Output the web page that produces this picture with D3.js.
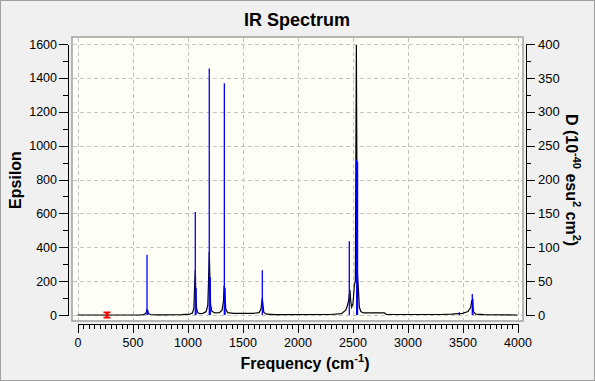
<html>
<head>
	<title>IR Spectrum</title>
<script src="https://d3js.org/d3.v7.min.js" charset="utf-8"></script>
<style type="text/css">
body{
	margin:0;
	background:#f0f0f0;
}
text{
	font-family:"Liberation Sans", Arial, sans-serif;
	fill:#000;
}
.grid{
	stroke:#c4c4c4;
	stroke-dasharray:4,3;
	shape-rendering:crispEdges;
}
.curve{
	fill:none;
	stroke:#000;
	stroke-width:1.2;
}
.stick{
	stroke:#0000ff;
	stroke-width:1.3;
}
.axis path, .axis line{
	stroke:#000;
	shape-rendering:crispEdges;
}
.axis text{
	font-size:12.5px;
}
.title{
	font-size:18px;
	font-weight:bold;
}
.label{
	font-size:16px;
	font-weight:bold;
}
</style>
</head>
<body>

</body>
<script>
// stick spectrum (right axis, D)
var stick_freq = [632, 640, 1071, 1078, 1198, 1207, 1335, 1341, 1680, 2471, 2538, 2546, 3471, 3589, 3595];
var stick_D    = [89,  7,   152,  40,   364,  56,   342,  40,   66,   109,  229,  226,  4,    31,   24];

// broadened curve (left axis, epsilon)
var curve_freq = [0, 560, 600, 620, 628, 632, 637, 645, 665, 720, 950, 1020, 1045, 1058, 1064, 1071, 1076, 1082, 1092, 1110,
	1140, 1170, 1185, 1192, 1198, 1204, 1210, 1222, 1250, 1290, 1315, 1327, 1332, 1335, 1340, 1348, 1365, 1420, 1600, 1650,
	1668, 1676, 1680, 1686, 1694, 1720, 1800, 2300, 2400, 2440, 2455, 2465, 2477, 2484, 2492, 2505, 2517, 2526, 2535, 2544,
	2553, 2562, 2576, 2600, 2790, 2810, 3300, 3400, 3500, 3550, 3575, 3585, 3592, 3600, 3620, 3700, 4000];
var curve_eps  = [0, 0, 2, 8, 22, 35, 20, 8, 3, 1, 2, 5, 12, 40, 160, 265, 120, 40, 15, 8,
	10, 20, 60, 220, 372, 210, 60, 22, 12, 14, 30, 80, 160, 177, 120, 35, 14, 10, 10, 14,
	35, 80, 100, 60, 15, 5, 2, 3, 8, 30, 60, 88, 148, 80, 47, 70, 177, 200, 1594, 250,
	160, 47, 20, 12, 12, 3, 3, 5, 10, 20, 45, 88, 60, 20, 5, 2, 0];

var freq_ticks = d3.range(0, 4001, 500),
	freq_minor = d3.range(0, 4001, 50).filter(function(d){ return d % 500 != 0; }),
	eps_ticks = d3.range(0, 1601, 200),
	eps_minor = d3.range(100, 1600, 200),
	d_ticks = d3.range(0, 401, 50),
	d_minor = d3.range(25, 400, 50);

var marker_freq = 268;

var svg = d3.select('body').append('svg').attr('width', 595).attr('height', 381),
	x = d3.scaleLinear().domain([0, 4000]).range([77.5, 517.5]),
	yEps = d3.scaleLinear().domain([0, 1600]).range([315, 44]),
	yD = d3.scaleLinear().domain([0, 400]).range([315, 44]),
	fmt = d3.format('d');

svg.append('rect')
	.attr('x', 0.5).attr('y', 0.5).attr('width', 594).attr('height', 380)
	.attr('fill', '#f0f0f0').attr('stroke', '#a0a0a0');

// plot frame
svg.append('rect')
	.attr('x', 72).attr('y', 37).attr('width', 451).attr('height', 284)
	.attr('fill', '#fffff7').attr('stroke', '#a0a0a0').attr('stroke-width', 1.5);

var grid = svg.append('g');
grid.selectAll('.vgrid')
	.data(freq_ticks)
	.enter()
	.append('line')
		.attr('class', 'grid')
		.attr('x1', function(d){ return Math.round(x(d)) + 0.5; })
		.attr('x2', function(d){ return Math.round(x(d)) + 0.5; })
		.attr('y1', 38).attr('y2', 320);
grid.selectAll('.hgrid')
	.data(eps_ticks)
	.enter()
	.append('line')
		.attr('class', 'grid')
		.attr('y1', function(d){ return Math.round(yEps(d)) + 0.5; })
		.attr('y2', function(d){ return Math.round(yEps(d)) + 0.5; })
		.attr('x1', 73).attr('x2', 522);

// axes
svg.append('g').attr('class', 'axis').attr('transform', 'translate(68,0)')
	.call(d3.axisLeft(yEps).tickValues(eps_ticks).tickFormat(fmt).tickSize(9).tickSizeOuter(0).tickPadding(2));
svg.append('g').attr('class', 'axis').attr('transform', 'translate(68,0)')
	.call(d3.axisLeft(yEps).tickValues(eps_minor).tickSize(5).tickSizeOuter(0).tickFormat(''));

svg.append('g').attr('class', 'axis').attr('transform', 'translate(526,0)')
	.call(d3.axisRight(yD).tickValues(d_ticks).tickFormat(fmt).tickSize(9).tickSizeOuter(0).tickPadding(3))
	.selectAll('text').style('font-size', '13px');
svg.append('g').attr('class', 'axis').attr('transform', 'translate(526,0)')
	.call(d3.axisRight(yD).tickValues(d_minor).tickSize(5).tickSizeOuter(0).tickFormat(''));

svg.append('g').attr('class', 'axis').attr('transform', 'translate(0,324)')
	.call(d3.axisBottom(x).tickValues(freq_ticks).tickFormat(fmt).tickSize(9).tickSizeOuter(0).tickPadding(5));
svg.append('g').attr('class', 'axis').attr('transform', 'translate(0,324)')
	.call(d3.axisBottom(x).tickValues(freq_minor).tickSize(5).tickSizeOuter(0).tickFormat(''));

// epsilon curve
var curve = curve_freq.map(function(f, i){ return [f, curve_eps[i]]; });
svg.append('path')
	.datum(curve)
	.attr('class', 'curve')
	.attr('d', d3.line().x(function(d){ return x(d[0]); }).y(function(d){ return yEps(d[1]); }));

// sticks
svg.selectAll('.stick')
	.data(stick_freq)
	.enter()
	.append('line')
		.attr('class', 'stick')
		.attr('x1', function(d){ return x(d); })
		.attr('x2', function(d){ return x(d); })
		.attr('y1', yD(0))
		.attr('y2', function(d, i){ return yD(stick_D[i]); });

// selected mode marker
svg.append('path')
	.attr('transform', 'translate(' + x(marker_freq) + ',' + yEps(0) + ')')
	.attr('d', 'M-3.5,-3.5h7v1.8h-2v3.4h2v1.8h-7v-1.8h2v-3.4h-2z')
	.attr('fill', '#ff0000');

// titles
svg.append('text').attr('class', 'title')
	.attr('x', 297).attr('y', 26).attr('text-anchor', 'middle')
	.text('IR Spectrum');

svg.append('text').attr('class', 'label')
	.attr('transform', 'translate(21,180) rotate(-90)').attr('text-anchor', 'middle')
	.text('Epsilon');

var fl = svg.append('text').attr('class', 'label')
	.attr('x', 305).attr('y', 369).attr('text-anchor', 'middle');
fl.append('tspan').text('Frequency (cm');
fl.append('tspan').attr('dy', -7).style('font-size', '11px').text('-1');
fl.append('tspan').attr('dy', 7).text(')');

var dl = svg.append('text').attr('class', 'label')
	.attr('transform', 'translate(566,180) rotate(90)').attr('text-anchor', 'middle');
dl.append('tspan').text('D (10');
dl.append('tspan').attr('dy', -7).style('font-size', '11px').text('-40');
dl.append('tspan').attr('dy', 7).text(' esu');
dl.append('tspan').attr('dy', -7).style('font-size', '11px').text('2');
dl.append('tspan').attr('dy', 7).text(' cm');
dl.append('tspan').attr('dy', -7).style('font-size', '11px').text('2');
dl.append('tspan').attr('dy', 7).text(')');

</script>
</html>
